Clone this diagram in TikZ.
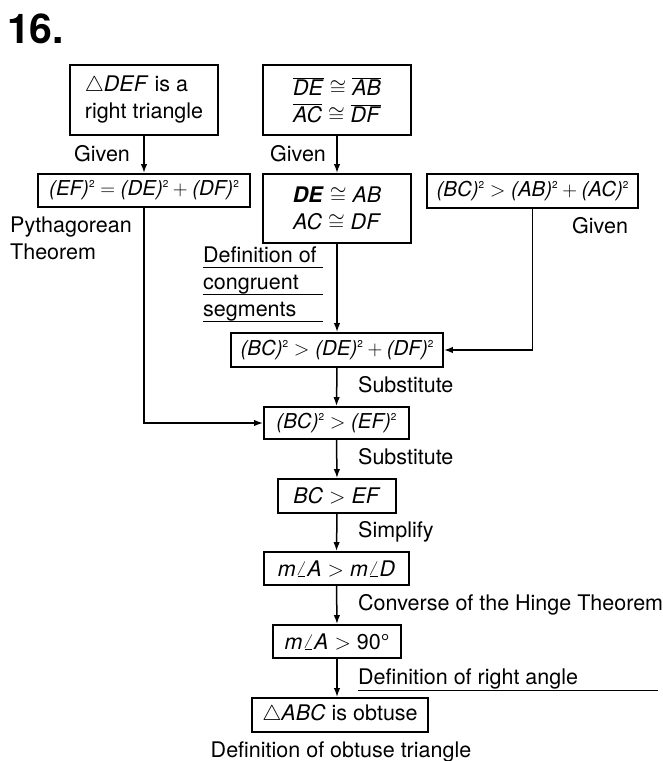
\documentclass[tikz,border=0pt]{standalone}
\usepackage{fix-cm}
\usepackage{fontspec}
\setmainfont{TeX Gyre Heros}
\usetikzlibrary{arrows.meta, positioning}
\newcommand{\sqr}[1]{\textit{(#1)}\raisebox{0.75ex}{\fontsize{10}{10}\selectfont 2}}
\newcommand{\seg}[1]{$\overline{\mbox{\textit{#1}}}$}

\begin{document}
\begin{tikzpicture}[x=1pt, y=-1pt, >={Latex[length=9pt,width=6.5pt]},
  every node/.style={font=\fontsize{21.5}{27}\selectfont},
  stmt/.style={draw, line width=1.9pt, inner sep=0pt, align=center, minimum height=33pt},
  formula/.style={font=\fontsize{20.5}{27}\selectfont},
  lbl/.style={inner sep=0pt, anchor=base west},
  link/.style={->, line width=1.5pt}]
\useasboundingbox (0,0) rectangle (662,761);
\node[font=\fontsize{41}{41}\selectfont\bfseries, inner sep=0pt, anchor=base west] (num) at (7,43) {16.};
% the given facts
\node[stmt, align=left, minimum width=148pt, minimum height=70pt] (rtri) at (144,100) {$\triangle$\textit{DEF} is a\\right triangle};
\node[stmt, minimum width=148pt, minimum height=70pt] (csegs) at (337,100) {\seg{DE} $\cong$ \seg{AB}\\\seg{AC} $\cong$ \seg{DF}};
\node[stmt, formula, minimum width=211pt, minimum height=34pt] (bcgiven) at (532.5,191) {\sqr{BC}${}>{}$\sqr{AB}${}+{}$\sqr{AC}};
% what follows from them
\node[stmt, formula, minimum width=212pt] (pyth) at (144,190.5) {\sqr{EF}${}={}$\sqr{DE}${}+{}$\sqr{DF}};
\node[stmt, minimum width=148pt, minimum height=69pt] (clen) at (337,208.5) {\textbf{\textit{DE}} $\cong$ \textit{AB}\\\textit{AC} $\cong$ \textit{DF}};
\node[stmt, formula, minimum width=212pt, minimum height=34pt] (bcde) at (337,350) {\sqr{BC}${}>{}$\sqr{DE}${}+{}$\sqr{DF}};
\node[stmt, formula, minimum width=145pt, minimum height=32pt] (bcef) at (336.5,423) {\sqr{BC}${}>{}$\sqr{EF}};
\node[stmt, minimum width=118pt, minimum height=34pt] (bclen) at (337,496) {\textit{BC} $>$ \textit{EF}};
\node[stmt, minimum width=145pt] (angs) at (336.5,568.5) {\textit{m}$\angle$\textit{A} $>$ \textit{m}$\angle$\textit{D}};
\node[stmt, minimum width=128pt] (ang90) at (337,641.5) {\textit{m}$\angle$\textit{A} $>$ 90°};
\node[stmt, minimum width=176pt, minimum height=34pt] (obt) at (340,715) {$\triangle$\textit{ABC} is obtuse};
% connectors
\draw[link] (rtri.south) -- (pyth.north);
\draw[link] (csegs.south) -- (clen.north);
\draw[link] (clen.south) -- (bcde.north);
\draw[link] (bcgiven.south) |- (bcde.east);
\draw[link] (pyth.south) |- (bcef.west);
\draw[link] (bcde.south) -- (bcef.north);
\draw[link] (bcef.south) -- (bclen.north);
\draw[link] (bclen.south) -- (angs.north);
\draw[link] (angs.south) -- (ang90.north);
\draw[link] (ang90.south) -- (obt.north -| ang90.south);
% reasons
\node[lbl] (r1) at (74,161) {Given};
\node[lbl] (r2) at (270,161) {Given};
\node[lbl] (r3) at (572,233) {Given};
\node[lbl, align=left] (r4) at (10,259) {Pythagorean\\Theorem};
\foreach \t [count=\i] in {Definition of, congruent, segments} {
  \node[lbl] (dcs\i) at (203,262+27*\i-27) {\t};
  \draw[line width=1pt] (dcs\i.base west) ++(0,5) -- ++(120,0);
}
\node[lbl] (r5) at (358,392) {Substitute};
\node[lbl] (r6) at (358,464) {Substitute};
\node[lbl] (r7) at (358,537) {Simplify};
\node[lbl] (r8) at (358,610) {Converse of the Hinge Theorem};
\node[lbl] (r9) at (358,684) {Definition of right angle};
\draw[line width=1pt] (r9.base west) ++(0,6) -- (658,690);
\node[inner sep=0pt, anchor=base] (r10) at (341,757) {Definition of obtuse triangle};
\end{tikzpicture}
\end{document}
